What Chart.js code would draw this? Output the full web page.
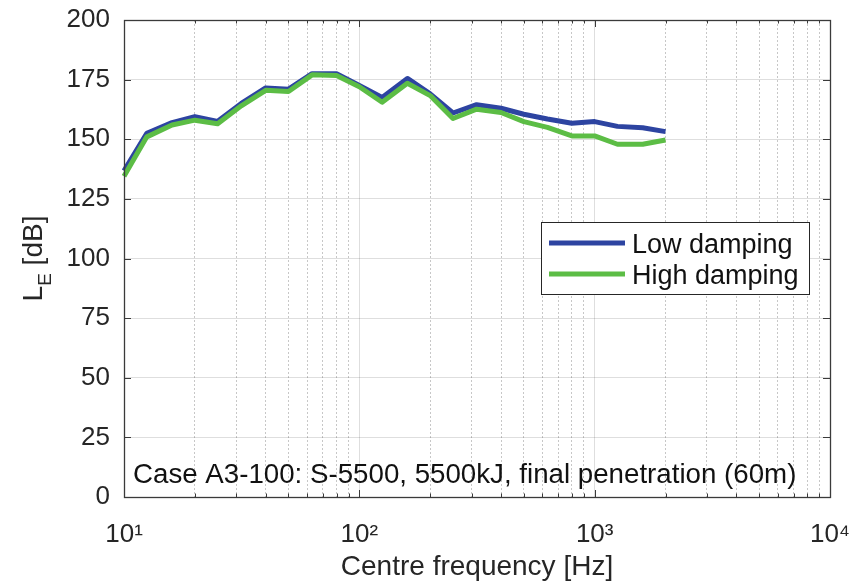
<!DOCTYPE html>
<html>
<head>
<meta charset="utf-8">
<script src="https://cdn.jsdelivr.net/npm/chart.js@4/dist/chart.umd.min.js"></script>
<style>
  html, body { margin: 0; padding: 0; background: #ffffff; }
  #wrap { width: 851px; height: 585px; position: relative; }
</style>
</head>
<body>
<div id="wrap"><canvas id="c" width="851" height="585"></canvas></div>
<script>
// ---- data ----
const freqs = [10, 12.5, 16, 20, 25, 31.5, 40, 50, 63, 80, 100, 125, 160, 200, 250, 315, 400, 500, 630, 800, 1000, 1250, 1600, 2000];
const lowDamping  = [136.8, 152.5, 157, 159.5, 157.5, 165, 171.5, 171, 177.5, 177.5, 172.5, 167.5, 175.5, 169, 161, 164.5, 163, 160.5, 158.5, 156.7, 157.4, 155.4, 154.8, 153.2];
const highDamping = [134.5, 151, 156, 158, 156.5, 164, 170.5, 170, 177, 176.7, 172, 165.5, 173.5, 168.3, 158.7, 162.6, 161.2, 157.4, 155, 151.4, 151.4, 147.9, 147.9, 149.7];
const seriesLabels = ['Low damping', 'High damping'];
const seriesColors = ['#2d44a1', '#5cbd45'];
const yTickValues = [0, 25, 50, 75, 100, 125, 150, 175, 200];
const xDecades = [10, 100, 1000, 10000];
const xMinorValues = [20,30,40,50,60,70,80,90,200,300,400,500,600,700,800,900,2000,3000,4000,5000,6000,7000,8000,9000];
const xTitle = 'Centre frequency [Hz]';
const yTitleMain = 'L';
const yTitleSub = 'E';
const yTitleRest = ' [dB]';
const annotationText = 'Case A3-100: S-5500, 5500kJ, final penetration (60m)';

const FONT = '"Liberation Sans", Arial, Helvetica, sans-serif';
const SUP = ['\u2070', '\u00B9', '\u00B2', '\u00B3', '\u2074'];
const isDecade = v => xDecades.some(d => Math.abs(d - v) < 1e-9);

const decorPlugin = {
  id: 'decor',
  afterDatasetsDraw(chart) {
    const { ctx, chartArea: a, scales: { x, y } } = chart;
    ctx.save();
    ctx.strokeStyle = '#3a3a3a';
    ctx.lineWidth = 1;
    // inward ticks
    ctx.beginPath();
    const allX = xDecades.concat(xMinorValues);
    allX.forEach(v => {
      const px = Math.round(x.getPixelForValue(v)) + 0.5;
      const len = isDecade(v) ? 7 : 3.5;
      ctx.moveTo(px, a.bottom); ctx.lineTo(px, a.bottom - len);
      ctx.moveTo(px, a.top); ctx.lineTo(px, a.top + len);
    });
    yTickValues.forEach(v => {
      const py = Math.round(y.getPixelForValue(v)) + 0.5;
      ctx.moveTo(a.left, py); ctx.lineTo(a.left + 7, py);
      ctx.moveTo(a.right, py); ctx.lineTo(a.right - 7, py);
    });
    ctx.stroke();
    // box
    ctx.lineWidth = 1.3;
    ctx.strokeRect(Math.round(a.left) + 0.5, Math.round(a.top) + 0.5, Math.round(a.right - a.left), Math.round(a.bottom - a.top));
    ctx.restore();
  },
  afterDraw(chart) {
    const { ctx, chartArea: a } = chart;
    ctx.save();
    // annotation text
    ctx.fillStyle = '#111111';
    ctx.font = '27.7px ' + FONT;
    ctx.textBaseline = 'alphabetic';
    ctx.textAlign = 'left';
    ctx.fillText(annotationText, a.left + 9, a.bottom - 14);

    // legend
    const lx = 541.5, ly = 222.5, lw = 268, lh = 72;
    ctx.fillStyle = '#ffffff';
    ctx.fillRect(lx, ly, lw, lh);
    ctx.strokeStyle = '#262626';
    ctx.lineWidth = 1;
    ctx.strokeRect(lx, ly, lw, lh);
    const rowsY = [243, 274];
    const textBase = [253, 284];
    chart.data.datasets.forEach((ds, i) => {
      ctx.strokeStyle = ds.borderColor;
      ctx.lineWidth = 5;
      ctx.beginPath();
      ctx.moveTo(549, rowsY[i]); ctx.lineTo(625, rowsY[i]);
      ctx.stroke();
      ctx.fillStyle = '#111111';
      ctx.font = '27px ' + FONT;
      ctx.textAlign = 'left';
      ctx.textBaseline = 'alphabetic';
      ctx.fillText(ds.label, 632, textBase[i]);
    });

    // y axis title with subscript
    ctx.fillStyle = '#262626';
    ctx.translate(0, (a.top + a.bottom) / 2);
    ctx.rotate(-Math.PI / 2);
    const fMain = '28px ' + FONT, fSub = '19px ' + FONT;
    ctx.font = fMain; const wL = ctx.measureText(yTitleMain).width;
    ctx.font = fSub; const wE = ctx.measureText(yTitleSub).width;
    ctx.font = fMain; const wR = ctx.measureText(yTitleRest).width;
    let tx = -(wL + wE + wR) / 2;
    ctx.textAlign = 'left';
    ctx.textBaseline = 'alphabetic';
    ctx.font = fMain; ctx.fillText(yTitleMain, tx, 42); tx += wL;
    ctx.font = fSub; ctx.fillText(yTitleSub, tx, 51); tx += wE;
    ctx.font = fMain; ctx.fillText(yTitleRest, tx, 42);
    ctx.restore();
  }
};

const makePts = vals => freqs.map((f, i) => ({ x: f, y: vals[i] }));

new Chart(document.getElementById('c'), {
  type: 'line',
  data: {
    datasets: [
      { label: seriesLabels[0], data: makePts(lowDamping), borderColor: seriesColors[0], backgroundColor: seriesColors[0],
        borderWidth: 5, pointRadius: 0, pointHoverRadius: 0, pointBorderWidth: 0, tension: 0, order: 1, borderJoinStyle: 'round', clip: false },
      { label: seriesLabels[1], data: makePts(highDamping), borderColor: seriesColors[1], backgroundColor: seriesColors[1],
        borderWidth: 5, pointRadius: 0, pointHoverRadius: 0, pointBorderWidth: 0, tension: 0, order: 0, borderJoinStyle: 'round', clip: false }
    ]
  },
  options: {
    responsive: false,
    animation: false,
    devicePixelRatio: 1,
    layout: { padding: { top: 20, right: 21, left: 0, bottom: 0 } },
    plugins: { legend: { display: false }, tooltip: { enabled: false } },
    scales: {
      x: {
        type: 'logarithmic',
        min: 10, max: 10000,
        afterBuildTicks: s => { s.ticks = xDecades.concat(xMinorValues).sort((p, q) => p - q).map(v => ({ value: v, major: isDecade(v) })); },
        afterFit: s => { s.height = 88; s.paddingLeft = 0; s.paddingRight = 0; s.paddingTop = 0; s.paddingBottom = 0; },
        ticks: {
          autoSkip: false, maxRotation: 0, minRotation: 0, padding: 22,
          color: '#262626', font: { family: FONT, size: 26 },
          callback: v => isDecade(v) ? '10' + SUP[Math.round(Math.log10(v))] : ''
        },
        grid: {
          drawTicks: false, lineWidth: 1,
          color: c => (c.tick && isDecade(c.tick.value)) ? 'rgba(0,0,0,0.13)' : 'rgba(0,0,0,0.22)'
        },
        border: { display: false, dash: c => (c.tick && !isDecade(c.tick.value)) ? [2, 2] : [] },
        title: { display: true, text: xTitle, color: '#262626', font: { family: FONT, size: 28 }, padding: { top: 0, bottom: 1 } }
      },
      y: {
        type: 'linear',
        min: 0, max: 200,
        afterBuildTicks: s => { s.ticks = yTickValues.map(v => ({ value: v })); },
        afterFit: s => { s.width = 124; s.paddingLeft = 0; s.paddingRight = 0; s.paddingTop = 0; s.paddingBottom = 0; },
        ticks: { padding: 14, color: '#262626', font: { family: FONT, size: 26 } },
        grid: { drawTicks: false, lineWidth: 1, color: 'rgba(0,0,0,0.13)' },
        border: { display: false }
      }
    }
  },
  plugins: [decorPlugin]
});
</script>
</body>
</html>
